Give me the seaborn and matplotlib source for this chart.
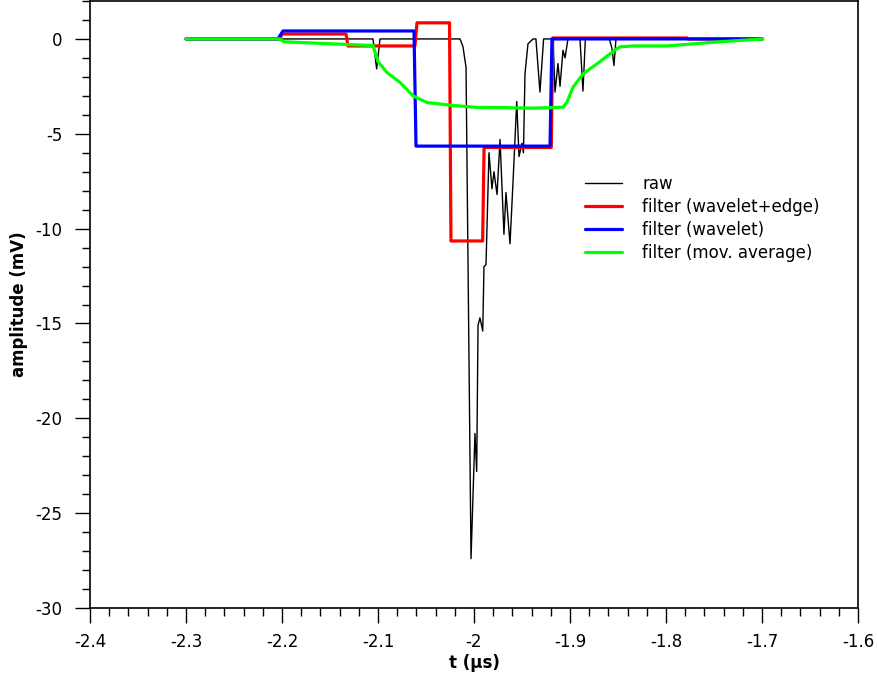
import matplotlib
matplotlib.use("Agg")
import matplotlib.pyplot as plt
from matplotlib.ticker import MultipleLocator
import seaborn as sns
import pandas as pd

sns.set_style("white")
plt.rcParams["font.family"] = ["DejaVu Sans"]
plt.rcParams["axes.unicode_minus"] = False
plt.rcParams["text.color"] = "black"
plt.rcParams["axes.labelcolor"] = "black"
plt.rcParams["xtick.color"] = "black"
plt.rcParams["ytick.color"] = "black"

# raw signal (breakpoints)
raw_t = [-2.3, -2.1052, -2.1014, -2.0979, -2.0146, -2.0115, -2.0083, -2.0031,
         -1.9990, -1.9972, -1.9958, -1.9938, -1.9909, -1.9896, -1.9875, -1.9844,
         -1.9813, -1.9792, -1.9760, -1.9729, -1.9688, -1.9667, -1.9625, -1.9594,
         -1.9555, -1.9531, -1.9500, -1.9485, -1.9469, -1.9438, -1.9385, -1.9355,
         -1.9313, -1.9275, -1.9240, -1.9177, -1.9156, -1.9125, -1.9104, -1.9073,
         -1.9052, -1.9021, -1.8896, -1.8865, -1.8840, -1.8590, -1.8563, -1.8542,
         -1.8521, -1.7]
raw_v = [0.0, 0.0, -1.58, 0.0, 0.0, -0.4, -1.5, -27.4,
         -20.8, -22.8, -15.1, -14.7, -15.4, -12.0, -11.9, -6.0,
         -7.9, -7.0, -8.2, -5.3, -10.3, -8.1, -10.8, -7.6,
         -3.3, -6.2, -5.5, -6.0, -1.85, -0.26, 0.0, 0.0,
         -2.8, 0.0, 0.0, 0.0, -2.8, -1.3, -2.5, -0.6,
         -1.0, 0.0, 0.0, -2.75, 0.0, 0.0, -0.5, -1.4,
         0.0, 0.0]

# filter (wavelet+edge)
edge_t = [-2.3, -2.2021, -2.2000, -2.1333, -2.1313, -2.0615, -2.0594, -2.0255,
          -2.0240, -1.9910, -1.9895, -1.9195, -1.9180, -1.7780, -1.7770, -1.7]
edge_v = [0.0, 0.0, 0.26, 0.26, -0.37, -0.37, 0.85, 0.85,
          -10.65, -10.65, -5.72, -5.72, 0.05, 0.05, 0.0, 0.0]

# filter (wavelet)
wav_t = [-2.3, -2.2042, -2.1990, -2.0625, -2.0604, -1.9208, -1.9188, -1.7]
wav_v = [0.0, 0.0, 0.42, 0.42, -5.65, -5.65, 0.0, 0.0]

# filter (mov. average)
mov_t = [-2.3, -2.2021, -2.1980, -2.1052, -2.1000, -2.0909, -2.0771, -2.0635,
         -2.0493, -2.0250, -1.9972, -1.9700, -1.9385, -1.9073, -1.9031, -1.8969,
         -1.8927, -1.8865, -1.8823, -1.8688, -1.8510, -1.8479, -1.8344, -1.7990,
         -1.7469, -1.6990]
mov_v = [0.0, 0.0, -0.15, -0.35, -1.2, -1.76, -2.29, -3.0,
         -3.35, -3.49, -3.61, -3.62, -3.65, -3.6, -3.33, -2.55,
         -2.27, -1.85, -1.69, -1.2, -0.5, -0.42, -0.37, -0.37,
         -0.16, 0.0]

fig = plt.figure(figsize=(8.77, 6.79), dpi=100)
ax = fig.add_axes([90 / 877, 1 - 608 / 679, 768 / 877, 607 / 679])

series = [
    ("raw", raw_t, raw_v, "#000000", 1.0),
    ("filter (wavelet+edge)", edge_t, edge_v, "#ff0000", 2.3),
    ("filter (wavelet)", wav_t, wav_v, "#0000ff", 2.3),
    ("filter (mov. average)", mov_t, mov_v, "#00ff00", 2.3),
]
for name, t, v, color, lw in series:
    df = pd.DataFrame({"t": t, "v": v})
    sns.lineplot(data=df, x="t", y="v", ax=ax, color=color, linewidth=lw,
                 label=name, sort=False, estimator=None)

ax.set_xlim(-2.4, -1.6)
ax.set_ylim(-30, 2)
ax.xaxis.set_minor_locator(MultipleLocator(0.02))
ax.yaxis.set_major_locator(MultipleLocator(5))
ax.yaxis.set_minor_locator(MultipleLocator(1))
ax.set_xticks([-2.4, -2.3, -2.2, -2.1, -2.0, -1.9, -1.8, -1.7, -1.6])
ax.set_xticklabels(["-2.4", "-2.3", "-2.2", "-2.1", "-2", "-1.9", "-1.8", "-1.7", "-1.6"])
ax.tick_params(axis="both", which="major", direction="out", length=11, width=1.0,
               labelsize=12)
ax.tick_params(axis="both", which="minor", direction="out", length=6, width=1.0)
ax.tick_params(axis="y", which="major", pad=9)
ax.tick_params(axis="x", which="major", pad=7)
ax.tick_params(bottom=True, left=True, which="both")
for sp in ax.spines.values():
    sp.set_color("black")
    sp.set_linewidth(1.2)

ax.set_xlabel("t (µs)", fontsize=12, fontweight="bold", labelpad=2)
ax.set_ylabel("amplitude (mV)", fontsize=12, fontweight="bold", labelpad=5)

ax.legend(loc="upper left", bbox_to_anchor=(585 / 877, 1 - 175 / 679),
          bbox_transform=fig.transFigure, frameon=False, fontsize=12,
          borderpad=0, borderaxespad=0, labelspacing=0.3, handlelength=2.2,
          handletextpad=1.25)

fig.savefig("out.png", dpi=100)
